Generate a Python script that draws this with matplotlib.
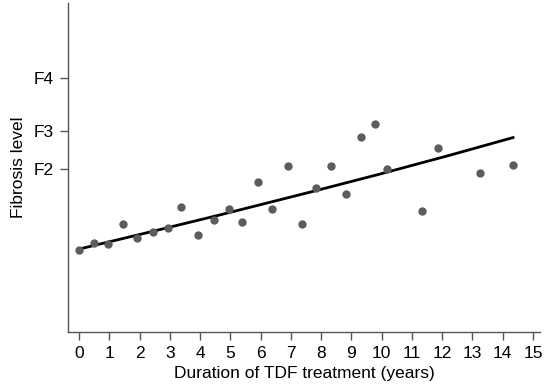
import matplotlib
matplotlib.use("Agg")
from matplotlib import pyplot as plt

# Observed fibrosis score vs. years on TDF (y on an arbitrary 0-100 scale)
years = [0.0, 0.5, 0.96, 1.46, 1.93, 2.44, 2.94, 3.37, 3.94, 4.45, 4.97, 5.39, 5.90,
         6.39, 6.91, 7.38, 7.84, 8.32, 8.83, 9.31, 9.77, 10.19, 11.33, 11.87, 13.25, 14.34]
score = [24.9, 27.0, 26.8, 32.9, 28.5, 30.3, 31.5, 38.1, 29.6, 34.0, 37.5, 33.5, 45.5,
         37.4, 50.5, 32.8, 43.7, 50.4, 41.9, 59.2, 63.2, 49.5, 36.8, 55.8, 48.4, 50.8]

# Fitted trend
fit_years = [0.0, 2.3, 4.66, 7.63, 9.94, 12.2, 14.34]
fit_score = [25.2, 30.3, 35.6, 42.5, 48.0, 53.6, 59.1]

# Fibrosis stage ticks
stage_pos = [49.5, 61.1, 77.2]
stage_lab = ["F2", "F3", "F4"]

plt.rcParams['font.family'] = ['Liberation Sans', 'DejaVu Sans']

fig = plt.figure(figsize=(5.45, 3.88), dpi=100)
ax = fig.add_axes([0.1248, 0.1443, 0.866, 0.848])

ax.scatter(years, score, s=36, color='#5c5c5c', zorder=3, linewidths=0)
ax.plot(fit_years, fit_score, color='black', lw=2, zorder=2)

ax.set_xlim(-0.363, 15.23)
ax.set_ylim(0, 100)
ax.set_xticks(range(16))
ax.set_yticks(stage_pos)
ax.set_yticklabels(stage_lab)

for s in ['top', 'right']:
    ax.spines[s].set_visible(False)
for s in ['left', 'bottom']:
    ax.spines[s].set_color('#555555')
    ax.spines[s].set_linewidth(1)
ax.tick_params(axis='both', colors='#555555', labelcolor='black', length=6,
               width=1, labelsize=12.5, pad=4)

ax.set_xlabel("Duration of TDF treatment (years)", fontsize=12.5, labelpad=4)
ax.set_ylabel("Fibrosis level", fontsize=12.5, labelpad=6)

fig.savefig("out.png", dpi=100)
